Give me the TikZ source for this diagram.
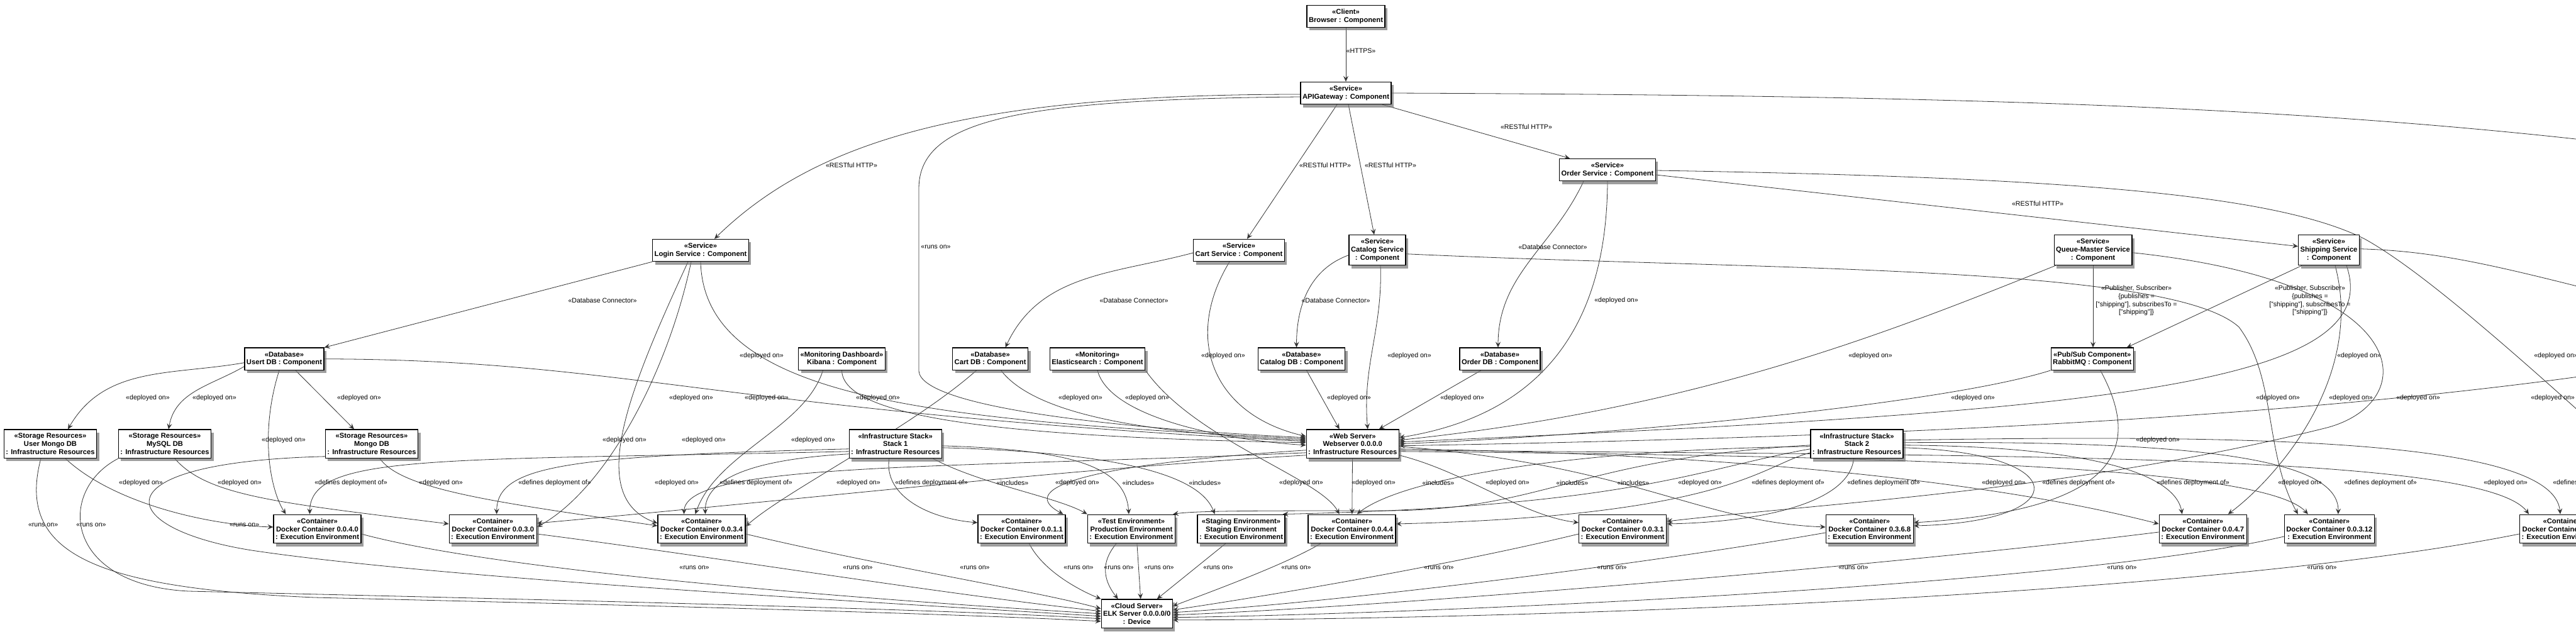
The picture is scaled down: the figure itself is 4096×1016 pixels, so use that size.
\documentclass[tikz,border=0pt]{standalone}
\usepackage{fontspec}
\setmainfont{Liberation Sans}
\usetikzlibrary{arrows.meta}
\usetikzlibrary{shadows,backgrounds}
\definecolor{vgray}{rgb}{.2,.2,.2}
\tikzset{
  comp/.style={rectangle,draw=black,line width=1.3pt,fill=white,align=center,inner xsep=3pt,inner ysep=6pt,
    font=\fontsize{11.2}{12.7}\selectfont\bfseries,
    drop shadow={shadow xshift=4pt,shadow yshift=-5pt,fill=black!55,opacity=.7}},
  lbl/.style={align=center,inner sep=0pt,font=\fontsize{10.6}{12.7}\selectfont},
  link/.style={draw=vgray,line width=.8pt,-{Stealth[length=9pt,width=8pt,inset=3.5pt]}}
}

\begin{document}
\begin{tikzpicture}[x=1pt,y=1pt]
\useasboundingbox (0,0) rectangle (4096,-1016);
\clip (0,0) rectangle (4096,-1016);

% components
\draw (2140,-25.8) node[comp] (browser) {«Client»\\Browser : Component};
\draw (2140,-148) node[comp] (gateway) {«Service»\\APIGateway : Component};
\draw (2556,-270) node[comp] (ordersvc) {«Service»\\Order Service : Component};
\draw (1114,-398) node[comp] (loginsvc) {«Service»\\Login Service : Component};
\draw (1970,-398) node[comp] (cartsvc) {«Service»\\Cart Service : Component};
\draw (2190,-397.7) node[comp] (catalogsvc) {«Service»\\Catalog Service\\: Component};
\draw (3328,-397.7) node[comp] (queuesvc) {«Service»\\Queue-Master Service\\: Component};
\draw (3703,-397.7) node[comp] (shipsvc) {«Service»\\Shipping Service\\: Component};

\draw (452,-570.7) node[comp] (userdb) {«Database»\\Usert DB : Component};
\draw (1338.5,-570.7) node[comp] (kibana) {«Monitoring Dashboard»\\Kibana : Component};
\draw (1574.6,-570.7) node[comp] (cartdb) {«Database»\\Cart DB : Component};
\draw (1745,-570.7) node[comp] (elastic) {«Monitoring»\\Elasticsearch : Component};
\draw (2069.5,-570.7) node[comp] (catalogdb) {«Database»\\Catalog DB : Component};
\draw (2385,-570.7) node[comp] (orderdb) {«Database»\\Order DB : Component};
\draw (3326.7,-570.7) node[comp] (rabbit) {«Pub/Sub Component»\\RabbitMQ : Component};

% infrastructure
\draw (80,-705.8) node[comp] (usermongo) {«Storage Resources»\\User Mongo DB\\: Infrastructure Resources};
\draw (262,-705.8) node[comp] (mysql) {«Storage Resources»\\MySQL DB\\: Infrastructure Resources};
\draw (591,-705.8) node[comp] (mongo) {«Storage Resources»\\Mongo DB\\: Infrastructure Resources};
\draw (1423.7,-705.8) node[comp] (stackA) {«Infrastructure Stack»\\Stack 1\\: Infrastructure Resources};
\draw (2150.7,-705.8) node[comp] (websrv) {«Web Server»\\Webserver 0.0.0.0\\: Infrastructure Resources};
\draw (2952.5,-705.8) node[comp] (stackB) {«Infrastructure Stack»\\Stack 2\\: Infrastructure Resources};

% execution environments
\draw (504.5,-841) node[comp] (c0400) {«Container»\\Docker Container 0.0.4.0\\: Execution Environment};
\draw (783.7,-841) node[comp] (c0300) {«Container»\\Docker Container 0.0.3.0\\: Execution Environment};
\draw (1115.5,-841) node[comp] (c0340) {«Container»\\Docker Container 0.0.3.4\\: Execution Environment};
\draw (1624.5,-841) node[comp] (c0110) {«Container»\\Docker Container 0.0.1.1\\: Execution Environment};
\draw (1798.9,-841) node[comp] (prodenv) {«Test Environment»\\Production Environment\\: Execution Environment};
\draw (1973.5,-841) node[comp] (stageenv) {«Staging Environment»\\Staging Environment\\: Execution Environment};
\draw (2149.6,-841) node[comp] (c0440) {«Container»\\Docker Container 0.0.4.4\\: Execution Environment};
\draw (2580.2,-841) node[comp] (c0310) {«Container»\\Docker Container 0.0.3.1\\: Execution Environment};
\draw (2972.7,-841) node[comp] (c3680) {«Container»\\Docker Container 0.3.6.8\\: Execution Environment};
\draw (3502.7,-841) node[comp] (c0470) {«Container»\\Docker Container 0.0.4.7\\: Execution Environment};
\draw (3703.8,-841) node[comp] (c0312) {«Container»\\Docker Container 0.0.3.12\\: Execution Environment};
\draw (4076,-841) node[comp] (cextra) {«Container»\\Docker Container 0.0.5.0\\: Execution Environment};

\draw (1807.7,-975.8) node[comp] (elk) {«Cloud Server»\\ELK Server 0.0.0.0/0\\: Device};

% ends that leave the page
\coordinate (payoff) at (4400,-260);
\coordinate (ordoff) at (4250,-790);
\coordinate (offC) at (4350,-560);
\coordinate (offD) at (4350,-520);

\begin{pgfonlayer}{background}
\begin{scope}
\clip (0,0) rectangle (4096,-1016);
% requests
\draw[link] (browser) -- (gateway);
\draw[link] ([yshift=-2pt]gateway.west) .. controls (1550,-150) and (1300,-220) .. ([xshift=22pt]loginsvc.north);
\draw[link] ([xshift=-14pt]gateway.south) -- ([xshift=13pt]cartsvc.north);
\draw[link] ([xshift=4pt]gateway.south) -- ([xshift=-5pt]catalogsvc.north);
\draw[link] ([xshift=58pt]gateway.south) -- ([xshift=17pt]ordersvc.north west);
\draw[link] (gateway.east) .. controls (3200,-152) and (3800,-172) .. (payoff);
\draw[link] ([yshift=-8pt]ordersvc.east) -- ([yshift=6pt]shipsvc.west);
\draw[link] ([yshift=-1pt]ordersvc.east) .. controls (3300,-282) and (3620,-310) .. (3760,-380) .. controls (3850,-430) and (4000,-560) .. (ordoff);
\draw[link] ([yshift=-6pt]gateway.west) .. controls (1620,-158) and (1461,-190) .. (1461,-300) -- (1461,-590) .. controls (1465,-645) and (1750,-680) .. ([yshift=10pt]websrv.west);

% database connectors
\draw[link] (loginsvc.south west) -- (userdb.north east);
\draw[link] ([yshift=-4pt]cartsvc.west) to[out=195,in=65] ([xshift=24pt]cartdb.north);
\draw[link] ([yshift=-8pt]catalogsvc.west) to[out=200,in=90] ([xshift=-8pt]catalogdb.north);
\draw[link] ([xshift=-38pt]ordersvc.south) to[out=-115,in=90] ([xshift=-3pt]orderdb.north);
\draw[link] (queuesvc.south) -- (queuesvc.south |- rabbit.north);
\draw[link] ([xshift=-43pt]shipsvc.south) -- ([xshift=55pt]rabbit.north);

% deployed on the web server
\draw[link] (loginsvc.south) .. controls (1120,-640) and (1500,-668) .. ([yshift=8pt]websrv.west);
\draw[link] (userdb.east) .. controls (1000,-572) and (1150,-655) .. ([yshift=4pt]websrv.west);
\draw[link] (kibana.south) .. controls (1340,-665) and (1600,-695) .. ([yshift=2pt]websrv.west);
\draw[link] ([xshift=-15pt]cartsvc.south) .. controls (1880,-540) and (1930,-660) .. ([yshift=12pt]websrv.west);
\draw[link] ([xshift=17pt]cartdb.south) .. controls (1650,-665) and (1850,-690) .. ([yshift=6pt]websrv.west);
\draw[link] (elastic.south) .. controls (1765,-665) and (1950,-700) .. ([yshift=-2pt]websrv.west);
\draw[link] ([xshift=8pt]catalogdb.south) -- ([xshift=-21pt]websrv.north);
\draw[link] ([xshift=5pt]catalogsvc.south) to[out=-88,in=95] ([xshift=24pt]websrv.north);
\draw[link] ([xshift=-30pt]orderdb.south) -- ([xshift=42pt]websrv.north);
\draw[link] (ordersvc.south) .. controls (2555,-520) and (2450,-660) .. ([yshift=10pt]websrv.east);
\draw[link] ([xshift=3pt]queuesvc.south west) .. controls (3000,-530) and (2700,-650) .. ([yshift=6pt]websrv.east);
\draw[link] ([xshift=28pt]shipsvc.south) .. controls (3800,-620) and (3300,-655) .. ([yshift=3pt]websrv.east);
\draw[link] (rabbit.south west) .. controls (3100,-640) and (2600,-690) .. (websrv.east);
\draw[link] (offC) .. controls (3900,-640) and (3300,-690) .. ([yshift=-3pt]websrv.east);
\draw[link] ([yshift=2pt]shipsvc.east) .. controls (3900,-400) and (4000,-430) .. (offD);

% user data
\draw[link] ([yshift=-6pt]userdb.west) to[out=190,in=60] ([xshift=28pt]usermongo.north);
\draw[link] ([yshift=-12pt]userdb.west) to[out=210,in=80] ([xshift=6pt]mysql.north);
\draw[link] ([xshift=18pt]userdb.south) -- ([xshift=-28pt]mongo.north);
\draw[link] ([xshift=-8pt]userdb.south) .. controls (412,-690) and (430,-780) .. ([xshift=-50pt]c0400.north);
\draw[link] ([xshift=24pt]usermongo.south) .. controls (180,-800) and (330,-835) .. ([yshift=3pt]c0400.west);
\draw[link] ([xshift=16pt]mysql.south) .. controls (330,-790) and (450,-800) .. ([yshift=8pt]c0300.west);
\draw[link] ([xshift=13pt]mongo.south) .. controls (640,-780) and (800,-800) .. ([yshift=5pt]c0340.west);
\draw[link] ([xshift=-15pt]loginsvc.south) .. controls (1060,-600) and (960,-780) .. ([yshift=3pt]c0300.east);
\draw[link] ([xshift=-20pt]loginsvc.south) .. controls (1000,-620) and (930,-790) .. ([yshift=9pt]c0340.west);
\draw[link] ([xshift=-30pt]kibana.south) .. controls (1280,-680) and (1140,-720) .. ([xshift=-10pt]c0340.north);
\draw[link] ([xshift=-22pt]cartdb.south) .. controls (1450,-680) and (1250,-780) .. ([yshift=4pt]c0340.east);

% stack 1
\draw[link] ([yshift=-12pt]stackA.west) .. controls (700,-733) and (493,-720) .. ([xshift=-12pt]c0400.north);
\draw[link] ([yshift=-8pt]stackA.west) .. controls (900,-725) and (790,-740) .. ([xshift=6pt]c0300.north);
\draw[link] ([yshift=-16pt]stackA.west) .. controls (1200,-730) and (1120,-760) .. ([xshift=6pt]c0340.north);
\draw[link] ([xshift=-10pt]stackA.south) .. controls (1405,-790) and (1480,-825) .. ([yshift=10pt]c0110.west);
\draw[link] ([xshift=60pt]stackA.south) .. controls (1560,-770) and (1680,-790) .. (prodenv.north west);
\draw[link] ([yshift=-3pt]stackA.east) .. controls (1700,-715) and (1790,-740) .. ([xshift=-4pt]prodenv.north);
\draw[link] ([yshift=-6pt]stackA.east) .. controls (1800,-720) and (1910,-760) .. ([xshift=-42pt]stageenv.north);

% web server on containers
\draw[link] ([yshift=-14pt]websrv.west) .. controls (1500,-745) and (1090,-735) .. ([xshift=-28pt]c0340.north);
\draw[link] ([yshift=-18pt]websrv.west) .. controls (1700,-745) and (1320,-790) .. ([yshift=9pt]c0300.east);
\draw[link] ([yshift=-10pt]websrv.west) .. controls (1700,-740) and (1620,-780) .. ([xshift=-4pt]c0110.north east);
\draw[link] (websrv) -- (c0440);
\draw[link] ([yshift=-18pt]websrv.east) .. controls (2330,-750) and (2420,-820) .. ([yshift=10pt]c0310.west);
\draw[link] ([yshift=-4pt]websrv.east) .. controls (2600,-740) and (2700,-830) .. ([yshift=3pt]c3680.west);
\draw[link] ([yshift=-8pt]websrv.east) .. controls (2700,-720) and (3150,-760) .. ([yshift=8pt]c0470.west);
\draw[link] ([yshift=-12pt]websrv.east) .. controls (3000,-725) and (3600,-740) .. ([xshift=-34pt]c0312.north);
\draw[link] ([yshift=-10pt]websrv.east) .. controls (3200,-725) and (3950,-720) .. ([xshift=-55pt]cextra.north);
\draw[link] (elastic.south east) .. controls (1900,-700) and (2100,-760) .. ([xshift=-20pt]c0440.north);

% stack 2
\draw[link] ([yshift=-4pt]stackB.west) .. controls (2500,-715) and (2230,-760) .. ([xshift=8pt]c0440.north);
\draw[link] ([yshift=-2pt]stackB.west) .. controls (2500,-730) and (2460,-812) .. (2200,-812) .. controls (2000,-812) and (1900,-812) .. ([xshift=-4pt]prodenv.north east);
\draw[link] ([yshift=-8pt]stackB.west) .. controls (2700,-745) and (2600,-805) .. ([xshift=-4pt]stageenv.north east);
\draw[link] ([yshift=-14pt]stackB.west) .. controls (2800,-740) and (2750,-820) .. ([yshift=8pt]c0440.east);
\draw[link] ([xshift=-5pt]stackB.south) .. controls (2940,-800) and (2800,-830) .. ([yshift=8pt]c0310.east);
\draw[link] ([yshift=-6pt]stackB.east) .. controls (3300,-720) and (3300,-830) .. ([yshift=5pt]c3680.east);
\draw[link] ([yshift=-2pt]stackB.east) .. controls (3350,-710) and (3460,-760) .. ([xshift=-33pt]c0470.north);
\draw[link] ([yshift=2pt]stackB.east) .. controls (3500,-700) and (3720,-730) .. ([xshift=14pt]c0312.north);
\draw[link] ([yshift=6pt]stackB.east) .. controls (3600,-690) and (4060,-700) .. ([xshift=-5pt]cextra.north);

% services on containers
\draw[link] ([yshift=-6pt]catalogsvc.east) .. controls (2800,-430) and (3450,-420) .. (3560,-520) .. controls (3620,-600) and (3600,-720) .. ([xshift=-50pt]c0312.north);
\draw[link] ([xshift=10pt]shipsvc.south) .. controls (3760,-600) and (3620,-760) .. ([xshift=40pt]c0470.north);
\draw[link] ([yshift=-4pt]queuesvc.east) .. controls (3850,-450) and (3850,-640) .. (3700,-680) .. controls (3300,-780) and (2900,-800) .. ([yshift=12pt]c0310.east);
\draw[link] ([xshift=13pt]rabbit.south) .. controls (3400,-700) and (3390,-810) .. ([yshift=10pt]c3680.east);

% runs on the ELK server
\draw[link] ([xshift=-15pt]usermongo.south) .. controls (25,-880) and (150,-935) .. (500,-950) .. controls (1000,-962) and (1500,-975) .. ([yshift=-12pt]elk.west);
\draw[link] (mysql.south west) .. controls (90,-780) and (100,-930) .. (300,-940) .. controls (800,-952) and (1500,-968) .. ([yshift=-8pt]elk.west);
\draw[link] ([yshift=-20pt]mongo.west) .. controls (150,-735) and (180,-840) .. (400,-875) .. controls (700,-920) and (1400,-958) .. ([yshift=-4pt]elk.west);
\draw[link] ([yshift=-8pt]c0400.east) .. controls (800,-910) and (1400,-955) .. (elk.west);
\draw[link] ([yshift=-8pt]c0300.east) .. controls (1100,-880) and (1500,-945) .. ([yshift=4pt]elk.west);
\draw[link] ([yshift=-8pt]c0340.east) .. controls (1400,-900) and (1650,-940) .. ([yshift=8pt]elk.west);
\draw[link] ([xshift=12pt]c0110.south) .. controls (1660,-910) and (1720,-940) .. (elk.north west);
\draw[link] ([xshift=-24pt]prodenv.south) .. controls (1745,-900) and (1760,-930) .. ([xshift=-30pt]elk.north);
\draw[link] ([xshift=9pt]prodenv.south) -- ([xshift=6pt]elk.north);
\draw[link] ([xshift=-25pt]stageenv.south) -- ([xshift=32pt]elk.north);
\draw[link] ([xshift=-50pt]c0440.south) .. controls (2040,-900) and (1900,-950) .. ([yshift=12pt]elk.east);
\draw[link] ([yshift=-8pt]c0310.west) .. controls (2300,-900) and (2000,-950) .. ([yshift=6pt]elk.east);
\draw[link] ([yshift=-6pt]c3680.west) .. controls (2600,-900) and (2100,-960) .. ([yshift=2pt]elk.east);
\draw[link] ([yshift=-5pt]c0470.west) .. controls (3000,-900) and (2200,-965) .. ([yshift=-2pt]elk.east);
\draw[link] ([yshift=-12pt]c0312.west) .. controls (3300,-930) and (2300,-975) .. ([yshift=-6pt]elk.east);
\draw[link] ([yshift=-8pt]cextra.west) .. controls (3500,-950) and (2400,-985) .. ([yshift=-10pt]elk.east);
\end{scope}
\end{pgfonlayer}

% connector labels
\draw (2164,-81) node[lbl] (l1) {«HTTPS»};
\draw (1354,-263) node[lbl] (l2) {«RESTful HTTP»};
\draw (2107,-263) node[lbl] (l3) {«RESTful HTTP»};
\draw (2211,-263) node[lbl] (l4) {«RESTful HTTP»};
\draw (2427,-202) node[lbl] (l5) {«RESTful HTTP»};
\draw (3240,-324) node[lbl] (l6) {«RESTful HTTP»};
\draw (1488,-393) node[lbl] (l7) {«runs on»};
\draw (958,-478) node[lbl] (l8) {«Database Connector»};
\draw (1803,-478) node[lbl] (l9) {«Database Connector»};
\draw (2124,-478) node[lbl] (l10) {«Database Connector»};
\draw (2469,-393) node[lbl] (l11) {«Database Connector»};
\draw (3397,-478) node[lbl] (l12) {«Publisher, Subscriber»\\\{publishes =\\{}["shipping"], subscribesTo =\\{}["shipping"]\}};
\draw (3673,-478) node[lbl] (l13) {«Publisher, Subscriber»\\\{publishes =\\{}["shipping"], subscribesTo =\\{}["shipping"]\}};
\draw (1211,-566) node[lbl] (l14) {«deployed on»};
\draw (1945,-566) node[lbl] (l15) {«deployed on»};
\draw (2241,-566) node[lbl] (l16) {«deployed on»};
\draw (2570,-478) node[lbl] (l17) {«deployed on»};
\draw (2974,-566) node[lbl] (l18) {«deployed on»};
\draw (3751,-566) node[lbl] (l19) {«deployed on»};
\draw (4064,-566) node[lbl] (l20) {«deployed on»};
\draw (235,-633) node[lbl] (l21) {«deployed on»};
\draw (341,-633) node[lbl] (l22) {«deployed on»};
\draw (571,-633) node[lbl] (l23) {«deployed on»};
\draw (1099,-633) node[lbl] (l24) {«deployed on»};
\draw (1219,-633) node[lbl] (l25) {«deployed on»};
\draw (1396,-633) node[lbl] (l26) {«deployed on»};
\draw (1718,-633) node[lbl] (l27) {«deployed on»};
\draw (1824,-633) node[lbl] (l28) {«deployed on»};
\draw (2145,-633) node[lbl] (l29) {«deployed on»};
\draw (2325,-633) node[lbl] (l30) {«deployed on»};
\draw (3137,-633) node[lbl] (l31) {«deployed on»};
\draw (3622,-633) node[lbl] (l32) {«deployed on»};
\draw (3738,-633) node[lbl] (l33) {«deployed on»};
\draw (3845,-633) node[lbl] (l34) {«deployed on»};
\draw (4059,-633) node[lbl] (l35) {«deployed on»};
\draw (451,-700) node[lbl] (l36) {«deployed on»};
\draw (993,-700) node[lbl] (l37) {«deployed on»};
\draw (1119,-700) node[lbl] (l38) {«deployed on»};
\draw (1293,-700) node[lbl] (l39) {«deployed on»};
\draw (3431,-700) node[lbl] (l40) {«deployed on»};
\draw (224,-768) node[lbl] (l41) {«deployed on»};
\draw (381,-768) node[lbl] (l42) {«deployed on»};
\draw (558,-768) node[lbl] (l43) {«defines deployment of»};
\draw (701,-768) node[lbl] (l44) {«deployed on»};
\draw (882,-768) node[lbl] (l45) {«defines deployment of»};
\draw (1076,-768) node[lbl] (l46) {«deployed on»};
\draw (1202,-768) node[lbl] (l47) {«defines deployment of»};
\draw (1365,-768) node[lbl] (l48) {«deployed on»};
\draw (1481,-768) node[lbl] (l49) {«defines deployment of»};
\draw (1610,-768) node[lbl] (l50) {«includes»};
\draw (1713,-768) node[lbl] (l51) {«deployed on»};
\draw (1810,-768) node[lbl] (l52) {«includes»};
\draw (1916,-768) node[lbl] (l53) {«includes»};
\draw (2069,-768) node[lbl] (l54) {«deployed on»};
\draw (2184,-768) node[lbl] (l55) {«deployed on»};
\draw (2287,-768) node[lbl] (l56) {«includes»};
\draw (2397,-768) node[lbl] (l57) {«deployed on»};
\draw (2500,-768) node[lbl] (l58) {«includes»};
\draw (2597,-768) node[lbl] (l59) {«includes»};
\draw (2703,-768) node[lbl] (l60) {«deployed on»};
\draw (2843,-768) node[lbl] (l61) {«defines deployment of»};
\draw (2995,-768) node[lbl] (l62) {«defines deployment of»};
\draw (3186,-768) node[lbl] (l63) {«deployed on»};
\draw (3305,-768) node[lbl] (l64) {«defines deployment of»};
\draw (3487,-768) node[lbl] (l65) {«defines deployment of»};
\draw (3657,-768) node[lbl] (l66) {«deployed on»};
\draw (3785,-768) node[lbl] (l67) {«defines deployment of»};
\draw (3984,-768) node[lbl] (l68) {«deployed on»};
\draw (4117,-768) node[lbl] (l69) {«defines deployment of»};
\draw (68.6,-835) node[lbl] (l70) {«runs on»};
\draw (145,-835) node[lbl] (l71) {«runs on»};
\draw (388.6,-835) node[lbl] (l72) {«runs on»};
\draw (1104,-903) node[lbl] (l73) {«runs on»};
\draw (1364,-903) node[lbl] (l74) {«runs on»};
\draw (1550,-903) node[lbl] (l75) {«runs on»};
\draw (1715,-903) node[lbl] (l76) {«runs on»};
\draw (1779,-903) node[lbl] (l77) {«runs on»};
\draw (1843,-903) node[lbl] (l78) {«runs on»};
\draw (1937,-903) node[lbl] (l79) {«runs on»};
\draw (2061,-903) node[lbl] (l80) {«runs on»};
\draw (2288,-903) node[lbl] (l81) {«runs on»};
\draw (2563,-903) node[lbl] (l82) {«runs on»};
\draw (2947,-903) node[lbl] (l83) {«runs on»};
\draw (3374,-903) node[lbl] (l84) {«runs on»};
\draw (3692,-903) node[lbl] (l85) {«runs on»};
\end{tikzpicture}
\end{document}
